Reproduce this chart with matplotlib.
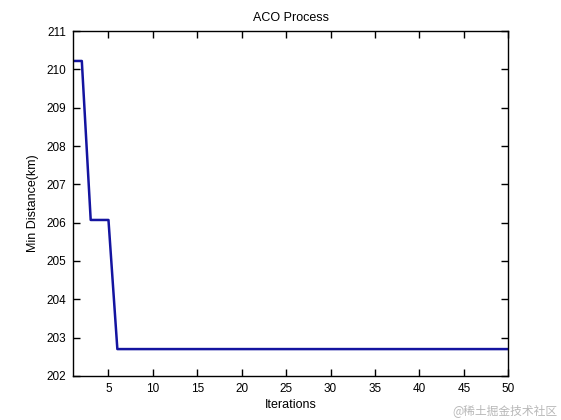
import matplotlib.pyplot as plt

# min distance found at each iteration
iterations = list(range(1, 51))
min_distance = [210.22, 210.22, 206.07, 206.07, 206.07] + [202.70] * 45

xticks = [5, 10, 15, 20, 25, 30, 35, 40, 45, 50]
yticks = list(range(202, 212))

plt.rcParams['font.family'] = ['Liberation Sans', 'DejaVu Sans']

fig = plt.figure(figsize=(5.61, 4.2), dpi=100)
ax = fig.add_axes([0.130, 0.105, 0.776, 0.821])

ax.plot(iterations, min_distance, color='#1414a0', linewidth=1.8)

ax.set_xlim(1, 50)
ax.set_ylim(202, 211)
ax.set_xticks(xticks)
ax.set_yticks(yticks)
ax.tick_params(direction='in', length=5, width=1, top=True, right=True,
               labelsize=8.5, pad=5)
for s in ax.spines.values():
    s.set_linewidth(1)

ax.set_title('ACO Process', fontsize=9, pad=7)
ax.set_xlabel('Iterations', fontsize=9, labelpad=3)
ax.set_ylabel('Min Distance(km)', fontsize=9, labelpad=5)

# watermark
fig.text(0.993, 0.008, '@稀土掘金技术社区', ha='right', va='bottom',
         fontsize=8.5, color='#b8b8b8',
         family=['Noto Sans CJK SC', 'DejaVu Sans'])

fig.savefig('out.png', dpi=100)
